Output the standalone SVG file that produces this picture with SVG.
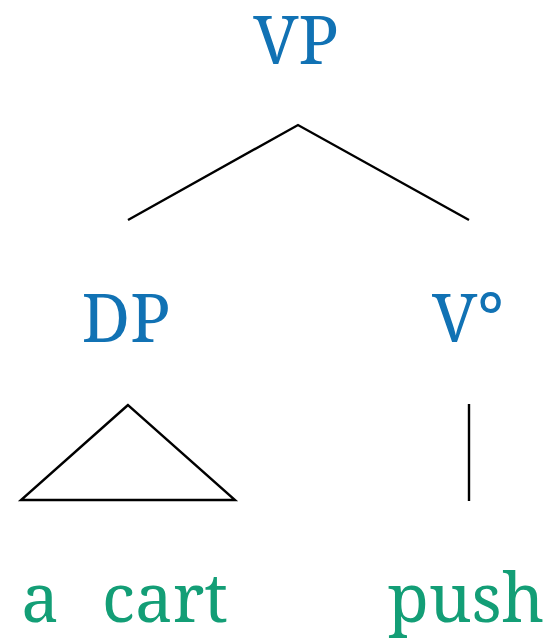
<svg xmlns="http://www.w3.org/2000/svg" width="556" height="641" viewBox="0 0 556 641">
<style>
text { font-family: "Noto Serif", "DejaVu Serif", serif; font-size: 67px; text-anchor: middle; }
.cat { fill: #1172b4; }
.word { fill: #139e76; }
.edge { stroke: #000; stroke-width: 2.4; fill: none; stroke-linejoin: miter; }
</style>
<rect width="556" height="641" fill="#fff"/>
<g id="connectors">
<polyline class="edge" points="128,220 298,125 469,220"/>
<polygon class="edge" points="128,405 21,500 235,500"/>
<line class="edge" x1="469" y1="404" x2="469" y2="501"/>
</g>
<g id="VP"><text class="cat" x="296" y="64">VP</text></g>
<g id="DP"><text class="cat" x="126" y="342">DP</text></g>
<g id="V0"><text class="cat" x="468" y="342">V°</text></g>
<g id="a-cart"><text class="word" x="40" y="622">a</text><text class="word" x="165" y="622">cart</text></g>
<g id="push"><text class="word" x="466" y="622">push</text></g>
</svg>
